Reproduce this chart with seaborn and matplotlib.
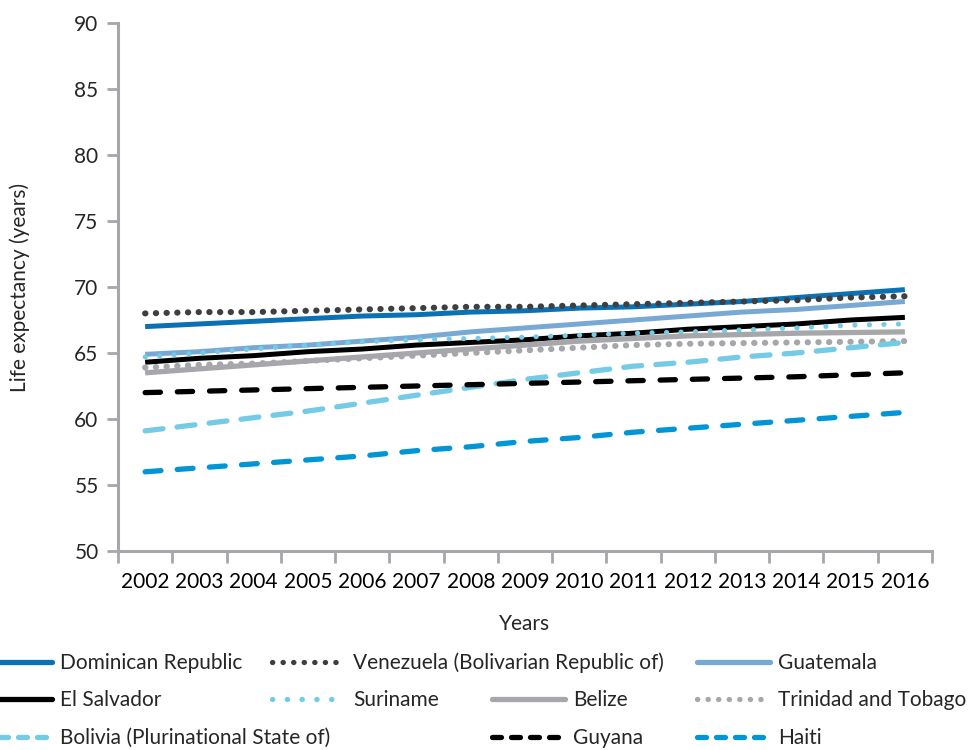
import matplotlib
matplotlib.use("Agg")
import matplotlib.pyplot as plt
from matplotlib.lines import Line2D
import seaborn as sns
import pandas as pd

# data
years = list(range(2002, 2017))
countries = [
    "Dominican Republic", "Venezuela (Bolivarian Republic of)", "Guatemala",
    "El Salvador", "Suriname", "Belize", "Trinidad and Tobago",
    "Bolivia (Plurinational State of)", "Guyana", "Haiti",
]
dominican = [67.0, 67.2, 67.4, 67.6, 67.8, 67.9, 68.1, 68.2, 68.4, 68.5, 68.7, 68.9, 69.2, 69.5, 69.8]
venezuela = [68.0, 68.1, 68.1, 68.2, 68.3, 68.4, 68.5, 68.5, 68.6, 68.7, 68.8, 68.9, 69.0, 69.2, 69.3]
guatemala = [64.9, 65.1, 65.4, 65.6, 65.9, 66.2, 66.6, 66.9, 67.2, 67.5, 67.8, 68.1, 68.3, 68.6, 68.9]
el_salvador = [64.3, 64.6, 64.8, 65.1, 65.3, 65.6, 65.8, 66.0, 66.3, 66.5, 66.8, 67.0, 67.2, 67.5, 67.7]
suriname = [64.7, 65.0, 65.3, 65.6, 65.85, 66.0, 66.1, 66.2, 66.35, 66.5, 66.6, 66.75, 66.9, 67.1, 67.2]
belize = [63.5, 63.8, 64.1, 64.4, 64.7, 65.0, 65.3, 65.6, 65.9, 66.1, 66.3, 66.4, 66.5, 66.55, 66.6]
trinidad = [63.9, 64.1, 64.2, 64.4, 64.6, 64.8, 65.0, 65.2, 65.4, 65.6, 65.7, 65.75, 65.8, 65.85, 65.9]
bolivia = [59.1, 59.6, 60.1, 60.6, 61.2, 61.8, 62.4, 63.0, 63.5, 64.0, 64.3, 64.7, 65.0, 65.4, 65.8]
guyana = [62.0, 62.1, 62.2, 62.3, 62.4, 62.5, 62.6, 62.7, 62.8, 62.9, 63.0, 63.1, 63.2, 63.35, 63.5]
haiti = [56.0, 56.3, 56.6, 56.9, 57.2, 57.6, 57.9, 58.3, 58.6, 59.0, 59.3, 59.6, 59.9, 60.2, 60.5]
series = [dominican, venezuela, guatemala, el_salvador, suriname,
          belize, trinidad, bolivia, guyana, haiti]

# styles: color, line width, dash pattern (None = solid)
styles = {
    "Dominican Republic": ("#0a71b4", 3.6, None),
    "Venezuela (Bolivarian Republic of)": ("#3f3f42", 4.4, (0, (0.05, 1.7))),
    "Guatemala": ("#78a9d5", 3.6, None),
    "El Salvador": ("#000000", 3.6, None),
    "Suriname": ("#74cbe6", 3.6, (0, (0.05, 2.85))),
    "Belize": ("#a6a7aa", 3.8, None),
    "Trinidad and Tobago": ("#a6a7aa", 4.4, (0, (0.05, 1.7))),
    "Bolivia (Plurinational State of)": ("#74cbe6", 3.8, (0, (3.4, 2.7))),
    "Guyana": ("#000000", 3.8, (0, (2.9, 3.2))),
    "Haiti": ("#0096d6", 3.8, (0, (3.0, 3.1))),
}
legend_dash = {
    "Venezuela (Bolivarian Republic of)": (0, (0.05, 1.95)),
    "Suriname": (0, (0.05, 2.75)),
    "Trinidad and Tobago": (0, (0.05, 1.95)),
    "Bolivia (Plurinational State of)": (0, (1.7, 1.9)),
    "Guyana": (0, (1.7, 1.9)),
    "Haiti": (0, (1.7, 1.9)),
}

sns.set_style("white")
plt.rcParams["font.family"] = ["Lato", "DejaVu Sans"]

grey = "#a6a7aa"
fs = 15

fig = plt.figure(figsize=(9.72, 7.5), dpi=100)
ax = fig.add_axes([118 / 972, 1 - 551 / 750, 814 / 972, 528 / 750])

for name, vals in zip(countries, series):
    color, lw, dash = styles[name]
    df = pd.DataFrame({"Years": years, "Life": vals})
    sns.lineplot(data=df, x="Years", y="Life", ax=ax, color=color, linewidth=lw,
                 linestyle=dash if dash else "-", dash_capstyle="round",
                 solid_capstyle="butt", legend=False)

ax.set_xlim(2001.5, 2016.5)
ax.set_ylim(50, 90)
ax.set_yticks(range(50, 91, 5))
ax.set_xticks(years)
ax.set_xticklabels([str(y) for y in years])
ax.set_xticks([y - 0.5 for y in years] + [2016.5], minor=True)
ax.tick_params(axis="x", which="major", length=0, pad=15, labelsize=fs, colors="black")
ax.tick_params(axis="x", which="minor", length=8.5, width=2, color=grey, bottom=True)
ax.tick_params(axis="y", length=8, width=2, color=grey, pad=6, labelsize=fs, left=True)

for side in ["top", "right"]:
    ax.spines[side].set_visible(False)
for side in ["left", "bottom"]:
    ax.spines[side].set_color(grey)
    ax.spines[side].set_linewidth(2.2)

ax.set_xlabel("Years", fontsize=fs, labelpad=16)
ax.set_ylabel("Life expectancy (years)", fontsize=fs)
ax.yaxis.set_label_coords(-(118 - 30) / 814, 0.5)

# legend laid out like the original: entries placed in rows
legend_pos = {
    "Dominican Republic": (-21, 663),
    "Venezuela (Bolivarian Republic of)": (272, 663),
    "Guatemala": (697, 663),
    "El Salvador": (-21, 700),
    "Suriname": (272, 700),
    "Belize": (492, 700),
    "Trinidad and Tobago": (697, 700),
    "Bolivia (Plurinational State of)": (-21, 738),
    "Guyana": (492, 738),
    "Haiti": (697, 738),
}
for name in countries:
    color, lw, dash = styles[name]
    ls = legend_dash.get(name, "-")
    h = Line2D([], [], color=color, linewidth=3.8,
               linestyle=ls, dash_capstyle="round", solid_capstyle="round")
    px, py = legend_pos[name]
    fig.legend(handles=[h], labels=[name], loc="center left",
               bbox_to_anchor=(px / 972, 1 - py / 750), frameon=False,
               fontsize=fs, handlelength=3.5, handletextpad=0.4,
               borderpad=0, borderaxespad=0)

fig.savefig("out.png", dpi=100)
